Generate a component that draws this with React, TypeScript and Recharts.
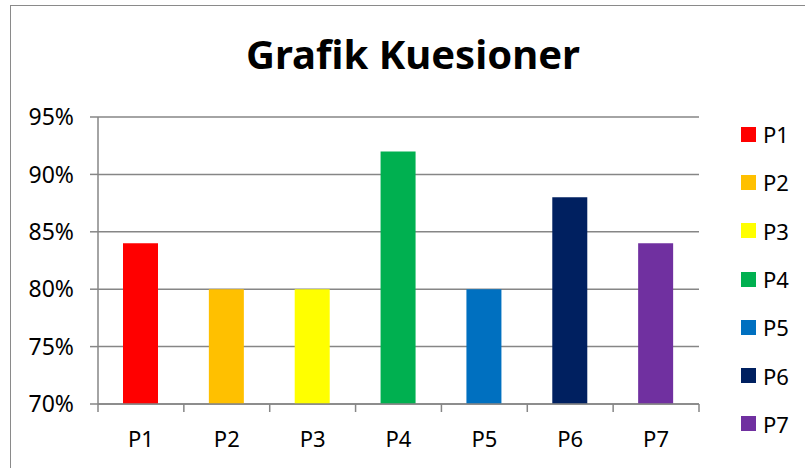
import React from 'react';
import { BarChart, Bar, XAxis, YAxis, CartesianGrid, Cell } from 'recharts';

const categories = ['P1', 'P2', 'P3', 'P4', 'P5', 'P6', 'P7'];
const values = [84, 80, 80, 92, 80, 88, 84];
const colors = ['#FF0000', '#FFC000', '#FFFF00', '#00B050', '#0070C0', '#002060', '#7030A0'];
const yTicks = [70, 75, 80, 85, 90, 95];

const data = categories.map((name, i) => ({ name, value: values[i] }));

const FONT = '"Noto Sans", "Open Sans", sans-serif';
const AXIS = '#868686';

// tick marks sit between categories, like the spreadsheet original
const CategoryTick = (props: any) => {
  const { x, y, payload, index } = props;
  const half = payload && payload.offset ? payload.offset : 43;
  return (
    <g>
      <line x1={x - half} x2={x - half} y1={y} y2={y + 8} stroke={AXIS} strokeWidth={1.5} />
      {index === categories.length - 1 && (
        <line x1={x + half} x2={x + half} y1={y} y2={y + 8} stroke={AXIS} strokeWidth={1.5} />
      )}
      <text x={x} y={y + 43} textAnchor="middle" fontSize={22} fill="#000" fontFamily={FONT}>
        {payload.value}
      </text>
    </g>
  );
};

export default function App() {
  return (
    <div
      style={{
        position: 'absolute',
        left: 0,
        top: 0,
        width: 805,
        height: 468,
        overflow: 'hidden',
        background: '#fff',
        fontFamily: FONT,
      }}
    >
      <div
        style={{
          position: 'absolute',
          left: 10,
          top: 5,
          width: 820,
          height: 480,
          border: '1.5px solid #8a8a8a',
        }}
      />
      <div
        style={{
          position: 'absolute',
          left: 0,
          width: 826,
          top: 26,
          textAlign: 'center',
          fontSize: 40,
          fontWeight: 700,
          color: '#000',
          lineHeight: '56px',
        }}
      >
        Grafik Kuesioner
      </div>
      <div style={{ position: 'absolute', left: 0, top: 0 }}>
        <BarChart
          width={805}
          height={468}
          data={data}
          margin={{ top: 117, right: 106, bottom: 0, left: 0 }}
        >
          <CartesianGrid vertical={false} stroke={AXIS} strokeWidth={1.5} />
          <XAxis
            dataKey="name"
            height={64}
            axisLine={{ stroke: AXIS, strokeWidth: 1.5 }}
            tickLine={false}
            tickSize={0}
            tickMargin={0}
            tick={<CategoryTick />}
            interval={0}
          />
          <YAxis
            width={98}
            domain={[70, 95]}
            ticks={yTicks}
            interval={0}
            tickFormatter={(v: number) => `${v}%`}
            axisLine={{ stroke: AXIS, strokeWidth: 1.5 }}
            tickLine={{ stroke: AXIS, strokeWidth: 1.5 }}
            tickSize={8}
            tickMargin={16}
            tick={{ fontSize: 23, fill: '#000', fontFamily: FONT }}
          />
          <Bar dataKey="value" barSize={35} isAnimationActive={false}>
            {data.map((d, i) => (
              <Cell key={d.name} fill={colors[i]} />
            ))}
          </Bar>
        </BarChart>
      </div>
      <div style={{ position: 'absolute', left: 741, top: 110 }}>
        {categories.map((c, i) => (
          <div
            key={c}
            style={{ display: 'flex', alignItems: 'center', height: 48.3, fontSize: 22, color: '#000' }}
          >
            <span style={{ width: 15, height: 15, background: colors[i], marginRight: 7, display: 'inline-block' }} />
            <span>{c}</span>
          </div>
        ))}
      </div>
    </div>
  );
}
